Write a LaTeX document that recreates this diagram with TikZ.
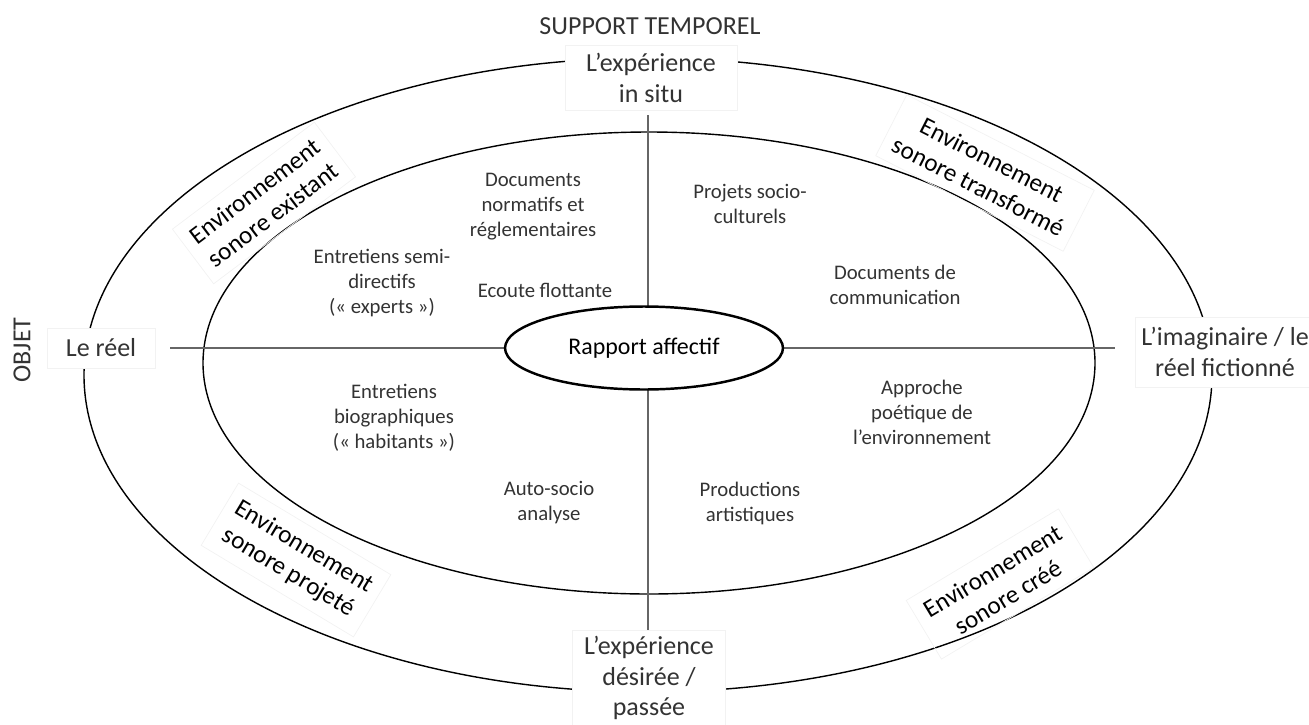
\documentclass[tikz,border=0pt]{standalone}
\usepackage{fontspec}
\setmainfont{Carlito}
\usetikzlibrary{shapes.geometric}

\newcommand{\smalltxt}{\fontsize{11.8}{14.2}\selectfont}
\newcommand{\bigtxt}{\fontsize{14.8}{17.2}\selectfont}
\newcommand{\envtxt}{\fontsize{14.3}{17}\selectfont}

\tikzset{
  ring/.style={line width=0.8pt},
  axis/.style={gray!80!black, line width=0.6pt},
  txt/.style={text=black!80, align=center, font=\smalltxt},
  pole/.style={text=black!80, align=center, font=\bigtxt, fill=white, draw=black!5},
  env/.style={text=black, align=center, font=\envtxt, draw=black!5, inner sep=6pt},
}

\begin{document}
\begin{tikzpicture}[x=0.02cm, y=-0.02cm]
\useasboundingbox (0,0) rectangle (1309,724);
% ellipses
\draw[ring] (648,375) ellipse [x radius=564, y radius=317];
\draw[ring] (649,363) ellipse [x radius=446, y radius=231];
% axes
\coordinate (hl) at (170,348);
\coordinate (hr) at (1115,348);
\coordinate (vt) at (648,115);
\coordinate (vb) at (648,630);
\draw[axis] (hl) -- (hr);
\draw[axis] (vt) -- (vb);
\node[draw, ellipse, line width=1.4pt, fill=white, minimum width=5.56cm, minimum height=1.66cm,
      font=\fontsize{13.6}{15}\selectfont] (ra) at (644,348) {Rapport affectif};

% poles
\node[text=black!80, font=\bigtxt] (st) at (650,26) {SUPPORT TEMPOREL};
\node[pole, minimum width=3.44cm, minimum height=1.3cm] (insitu) at (651,78) {L’expérience\\in situ};
\node[pole, minimum width=3.06cm, minimum height=1.84cm] (desiree) at (649,678) {L’expérience\\désirée /\\passée};
\node[pole, minimum width=2.16cm, minimum height=0.8cm] (reel) at (101,348) {Le réel};
\node[pole, minimum width=3.3cm, minimum height=1.4cm] (imag) at (1225,352) {L’imaginaire / le\\réel fictionné};
\node[text=black!80, font=\bigtxt, rotate=90] (objet) at (22,350) {OBJET};

% environnements
\node[env, rotate=37] (exist) at (264,203) {Environnement\\sonore existant};
\node[env, rotate=-27] (transf) at (985,173) {Environnement\\sonore transformé};
\node[env, rotate=-31] (proj) at (296,560) {Environnement\\sonore projeté};
\node[env, rotate=31] (cree) at (1000,584) {Environnement\\sonore créé};

% methodes
\node[txt] (docnorm) at (533,207) {Documents\\normatifs et\\réglementaires};
\node[txt] (entexp) at (382,283) {Entretiens semi-\\directifs\\(«~experts~»)};
\node[txt] (ecoute) at (545,290) {Ecoute flottante};
\node[txt] (projets) at (750,204) {Projets socio-\\culturels};
\node[txt] (doccom) at (895,285) {Documents de\\communication};
\node[txt] (entbio) at (394,418) {Entretiens\\biographiques\\(«~habitants~»)};
\node[txt] (approche) at (922,412) {Approche\\poétique de\\l’environnement};
\node[txt] (auto) at (549,503) {Auto-socio\\analyse};
\node[txt] (prod) at (750,503) {Productions\\artistiques};
\end{tikzpicture}
\end{document}
